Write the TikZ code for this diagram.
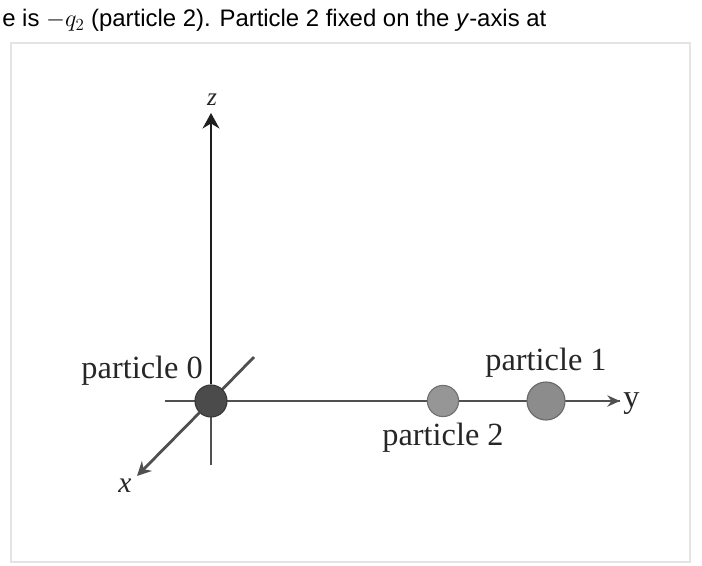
\documentclass[tikz,border=0pt]{standalone}
\usepackage{fontspec}
\setmainfont{Liberation Serif}
\newfontfamily\headfont{Liberation Sans}
\usetikzlibrary{arrows.meta,positioning}
\definecolor{axisdark}{RGB}{30,30,30}
\definecolor{axisgray}{RGB}{80,80,80}
\definecolor{framegray}{RGB}{228,228,228}
\definecolor{pzero}{RGB}{75,75,75}
\definecolor{pone}{RGB}{140,140,140}
\definecolor{ptwo}{RGB}{150,150,150}

\begin{document}
\begin{tikzpicture}[
      x=0.025cm,y=-0.025cm,
      particle/.style={circle,draw=#1!75!black,fill=#1,line width=0.8pt,inner sep=0pt},
      lbl/.style={font=\fontsize{23}{26}\selectfont,inner sep=0pt,text=black!85},
      axis/.style={axisgray,line width=1.5pt},
      arr/.style={-{Stealth[length=11pt,width=12pt]}}
    ]
    \useasboundingbox (0,0) rectangle (702,565);
    \draw[framegray,line width=1.2pt] (11,43) rectangle (690,562);
    \node[anchor=base west,inner sep=0pt,font=\headfont\fontsize{17}{20}\selectfont] (intro) at (2,27)
      {e is {\fontsize{18.5}{21}\selectfont$-q_2$} (particle 2). Particle 2 fixed on the \textit{y}-axis at};

    \coordinate (ztip) at (211,113);
    \coordinate (zfoot) at (211,465);
    \coordinate (yfoot) at (165,401);
    \coordinate (ytip) at (620,401);
    \coordinate (xback) at (254,357);
    \coordinate (xtip) at (137,476);

    % axes behind the particles
    \draw[axisgray,line width=1pt] (zfoot) -- (211,401);
    \draw[axis] (yfoot) -- (ytip);
    \draw[axis,line width=2pt] (xback) -- (211,401);

    \node[particle=pzero,minimum size=0.8cm] (p0) at (211,401) {};
    \node[particle=ptwo,minimum size=0.78cm] (p2) at (443,401) {};
    \node[particle=pone,minimum size=0.95cm] (p1) at (546,401) {};

    \draw[axisdark,line width=1.5pt,arr] (p0) -- (ztip);
    \draw[axis,line width=2pt,-{Stealth[length=10pt,width=10pt]}] (p0) -- (xtip);
    \draw[axis,-{Stealth[length=9pt,width=8pt]}] (p1) -- (ytip);

    \node[lbl,anchor=east] (lbl0) at (203,371) {particle 0};
    \node[lbl,above=0.1cm of p1] (lbl1) {particle 1};
    \node[lbl,below=0.14cm of p2] (lbl2) {particle 2};

    \node[lbl,font=\itshape\fontsize{18}{20}\selectfont] (zlbl) at (212,100) {z};
    \node[lbl,font=\itshape\fontsize{21}{24}\selectfont] (xlbl) at (125,486) {x};
    \node[lbl,anchor=west] (ylbl) at (623,404) {y};
  \end{tikzpicture}
\end{document}
